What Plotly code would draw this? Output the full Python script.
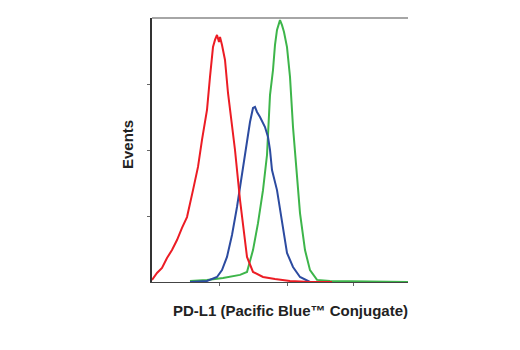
import plotly.graph_objects as go

# Red histogram
red_x = [0, 5, 10, 15, 20, 25, 30, 35, 41, 46, 50, 55, 58, 61, 63, 65, 67, 68, 70, 73, 76, 80, 83, 88, 92, 95, 101, 111, 123, 138, 158, 180]
red_y = [0.8, 3.4, 5.3, 9.1, 12.1, 15.9, 20.5, 24.6, 34.8, 43.6, 53.8, 65.2, 77.7, 89.0, 91.7, 93.6, 90.9, 92.8, 89.8, 84.1, 71.6, 58.7, 50.0, 31.1, 17.8, 9.5, 3.8, 1.9, 1.1, 0.4, 0.0, 0.0]

# Blue histogram
blue_x = [38, 55, 65, 70, 75, 80, 85, 91, 95, 98, 101, 103, 105, 108, 113, 116, 118, 120, 125, 130, 135, 141, 148, 158, 178]
blue_y = [0.0, 0.4, 1.9, 4.5, 9.5, 17.8, 28.4, 43.6, 53.8, 60.6, 65.9, 66.3, 64.4, 62.5, 58.7, 54.9, 50.0, 42.4, 34.8, 22.3, 11.0, 5.7, 1.9, 0.0, 0.0]

# Green histogram
green_x = [38, 55, 71, 88, 95, 101, 106, 111, 115, 118, 121, 123, 125, 128, 130, 132, 135, 138, 141, 145, 148, 153, 158, 165, 178, 256]
green_y = [0.4, 0.8, 1.5, 2.7, 3.8, 12.1, 22.3, 34.8, 48.1, 70.8, 80.3, 89.8, 95.5, 99.2, 97.3, 94.7, 89.0, 77.7, 58.7, 41.3, 26.1, 12.1, 4.5, 0.8, 0.4, 0.0]

x_ticks = [67, 135, 201]
y_ticks = [25, 50, 75]

fig = go.Figure()
fig.add_trace(go.Scatter(x=green_x, y=green_y, mode="lines", line=dict(color="#3db54a", width=2)))
fig.add_trace(go.Scatter(x=blue_x, y=blue_y, mode="lines", line=dict(color="#2c4ba0", width=2)))
fig.add_trace(go.Scatter(x=red_x, y=red_y, mode="lines", line=dict(color="#ec1c24", width=2)))

font_fam = "Liberation Sans Narrow, Arial Narrow, Liberation Sans, sans-serif"

fig.update_layout(
    width=520, height=350,
    margin=dict(l=152, r=112, t=18, b=68),
    paper_bgcolor="white", plot_bgcolor="white",
    showlegend=False,
    xaxis=dict(range=[0, 256], showgrid=False, zeroline=False, showline=True,
               linecolor="#444", linewidth=1, ticks="outside", ticklen=3,
               tickcolor="#666", tickvals=x_ticks, showticklabels=False),
    yaxis=dict(range=[0, 100], showgrid=False, zeroline=False, showline=True,
               linecolor="#333", linewidth=1.5, ticks="outside", ticklen=3,
               tickcolor="#666", tickvals=y_ticks, showticklabels=False),
    shapes=[dict(type="line", xref="paper", yref="paper", x0=0, x1=1, y0=1, y1=1,
                 line=dict(color="#888", width=1.5))],
    annotations=[
        dict(text="<b>PD-L1 (Pacific Blue™ Conjugate)</b>", xref="paper", yref="paper",
             x=(290 - 152) / 256, y=-(310 - 282) / 264, showarrow=False,
             xanchor="center", yanchor="middle",
             font=dict(family=font_fam, size=15, color="#222")),
        dict(text="<b>Events</b>", xref="paper", yref="paper",
             x=-(152 - 127) / 256, y=(282 - 145) / 264, showarrow=False, textangle=-90,
             xanchor="center", yanchor="middle",
             font=dict(family=font_fam, size=15, color="#222")),
    ],
)

fig.write_html("out.html")
